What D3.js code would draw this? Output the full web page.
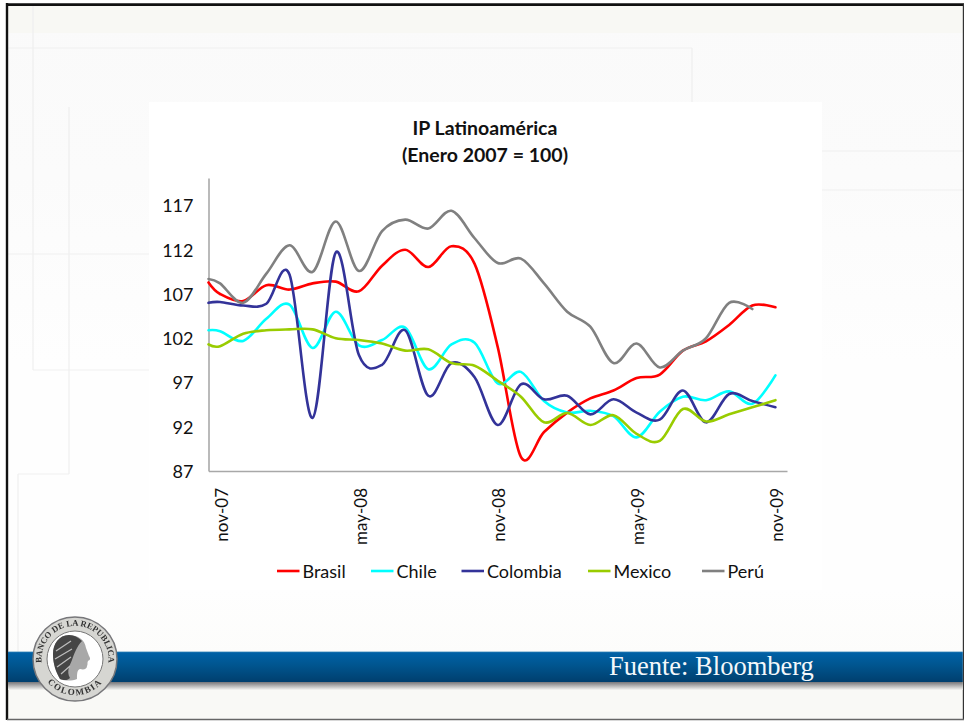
<!DOCTYPE html>
<html>
<head>
<meta charset="utf-8">
<script src="https://cdnjs.cloudflare.com/ajax/libs/d3/7.8.5/d3.min.js"></script>
<style>
  html, body { margin: 0; padding: 0; background: #fff; overflow: hidden; }
  svg { display: block; }
  text { font-family: Lato, "Open Sans", sans-serif; fill: #111; }
</style>
</head>
<body>
<svg id="slide" width="964" height="721"></svg>
<script>
const months = ['nov-07','dic-07','ene-08','feb-08','mar-08','abr-08','may-08','jun-08','jul-08','ago-08','sep-08','oct-08',
  'nov-08','dic-08','ene-09','feb-09','mar-09','abr-09','may-09','jun-09','jul-09','ago-09','sep-09','oct-09','nov-09'];
const labelledMonths = ['nov-07','may-08','nov-08','may-09','nov-09'];
const yTicks = [87, 92, 97, 102, 107, 112, 117];

// first value of each list is where the line meets the vertical axis, the rest are monthly
const brasil = [108.3,107.0,106.2,108.0,107.5,108.2,108.4,107.3,110.2,112.0,110.05,112.4,110.4,101.0,88.6,91.4,93.6,95.2,96.1,97.5,97.9,100.6,101.65,103.5,105.7,105.5];
const chile = [102.9,102.8,101.7,104.2,105.8,100.9,105.0,101.2,101.8,103.2,98.5,101.3,101.5,96.9,98.2,94.9,93.6,93.8,93.2,90.8,93.7,95.4,95.0,96.0,94.6,97.8];
const colombia = [106.0,106.1,105.7,105.9,109.2,93.0,111.7,100.1,99.0,102.9,95.5,99.2,97.6,92.2,96.8,95.1,95.5,93.4,95.1,93.6,92.8,96.1,92.5,95.7,94.9,94.2];
const mexico = [101.3,101.1,102.5,102.9,103.0,103.0,102.0,101.8,101.4,100.6,100.75,99.2,98.9,97.2,95.4,92.5,93.55,92.2,93.3,91.2,90.4,94.0,92.6,93.4,94.2,95.0];
const peru = [108.7,108.2,106.0,109.3,112.5,109.5,115.2,109.6,114.1,115.4,114.4,116.4,113.3,110.5,111.0,108.2,105.0,103.3,99.2,101.4,98.7,100.6,102.0,106.0,105.3];

const series = [
  { name: 'Brasil', values: brasil, color: '#ff0000', legendX: 277 },
  { name: 'Chile', values: chile, color: '#00ffff', legendX: 371 },
  { name: 'Colombia', values: colombia, color: '#333399', legendX: 461.5 },
  { name: 'Mexico', values: mexico, color: '#99cc00', legendX: 588 },
  { name: 'Perú', values: peru, color: '#808080', legendX: 702 },
];

const svg = d3.select('#slide');
const defs = svg.append('defs');

function vGradient(id, stops) {
  const g = defs.append('linearGradient').attr('id', id).attr('x1', 0).attr('x2', 0).attr('y1', 0).attr('y2', 1);
  stops.forEach(s => g.append('stop').attr('offset', s[0]).attr('stop-color', s[1]));
}
vGradient('bar-grad', [[0, '#5b9cc4'], [0.04, '#0061a6'], [0.45, '#00558f'], [1, '#003f6e']]);
vGradient('bar-shadow', [[0, '#77777a'], [1, '#f6f6f3']]);
vGradient('bg-grad', [[0, '#fafafa'], [0.24, '#fbfbfb'], [0.5, '#fefefe'], [0.82, '#fefefe'], [1, '#fafaf8']]);
defs.append('filter').attr('id', 'soft').append('feGaussianBlur').attr('stdDeviation', 0.45);

// slide background
const bg = svg.append('g');
bg.append('rect').attr('x', 7).attr('y', 5).attr('width', 956).attr('height', 714).attr('fill', 'url(#bg-grad)');
bg.append('rect').attr('x', 8).attr('y', 6).attr('width', 955).attr('height', 27).attr('fill', '#f8f8f4');
bg.append('rect').attr('x', 8).attr('y', 688).attr('width', 955).attr('height', 30).attr('fill', '#f9f9f6');

const guides = [
  [33, 6, 33, 370], [33, 370, 149, 370], [69, 107, 69, 474], [18, 474, 69, 474], [18, 474, 18, 652],
  [8, 254, 149, 254], [8, 48, 692, 48], [692, 48, 692, 102], [822, 151, 963, 151], [822, 190, 963, 190],
];
bg.selectAll('line').data(guides).join('line')
  .attr('x1', d => d[0]).attr('y1', d => d[1]).attr('x2', d => d[2]).attr('y2', d => d[3])
  .attr('stroke', '#efefef').attr('stroke-width', 1.2);

// frame
svg.append('line').attr('x1', 6).attr('x2', 964).attr('y1', 4.6).attr('y2', 4.6).attr('stroke', '#111').attr('stroke-width', 2.8);
svg.append('line').attr('x1', 7).attr('x2', 7).attr('y1', 3).attr('y2', 720).attr('stroke', '#111').attr('stroke-width', 2.4);
svg.append('line').attr('x1', 963.4).attr('x2', 963.4).attr('y1', 4).attr('y2', 720).attr('stroke', '#333').attr('stroke-width', 1.2);
svg.append('line').attr('x1', 7).attr('x2', 964).attr('y1', 719.6).attr('y2', 719.6).attr('stroke', '#666').attr('stroke-width', 1.5);

// blue bar
svg.append('rect').attr('x', 8).attr('y', 682).attr('width', 954.8).attr('height', 8).attr('fill', 'url(#bar-shadow)');
svg.append('rect').attr('x', 8).attr('y', 651.5).attr('width', 954.8).attr('height', 30.5).attr('fill', 'url(#bar-grad)');
svg.append('text').attr('x', 609).attr('y', 675)
  .style('font-family', '"Liberation Serif", serif').style('font-size', '26.5px').style('fill', '#f4f8fb')
  .text('Fuente: Bloomberg');

// chart panel
svg.append('rect').attr('x', 149).attr('y', 102).attr('width', 673).attr('height', 488).attr('fill', '#fff');

const plot = { left: 208.5, right: 787, top: 178, bottom: 471 };
const x = d3.scaleBand().domain(months).range([plot.left, plot.right]);
const y = d3.scaleLinear().domain([87, 87 + (plot.bottom - plot.top) / 8.85]).range([plot.bottom, plot.top]);
const xPos = i => i === 0 ? plot.left : x(months[i - 1]) + x.bandwidth() / 2;

const title = svg.append('text').attr('text-anchor', 'middle').style('font-weight', 700).style('font-size', '19.5px');
title.append('tspan').attr('x', 485).attr('y', 135).text('IP Latinoamérica');
title.append('tspan').attr('x', 485).attr('y', 162).text('(Enero 2007 = 100)');

const yAxis = svg.append('g').attr('transform', `translate(${plot.left},0)`)
  .call(d3.axisLeft(y).tickValues(yTicks).tickSize(0).tickPadding(15).tickFormat(d3.format('d')));
yAxis.selectAll('text').style('font-size', '18px').attr('dy', '0.36em');
yAxis.select('.domain').attr('stroke', '#8c8c8c').attr('stroke-width', 1.2);

const xAxis = svg.append('g').attr('transform', `translate(0,${plot.bottom})`)
  .call(d3.axisBottom(x).tickValues(labelledMonths).tickSize(0));
xAxis.select('.domain').attr('stroke', '#a8a8a8').attr('stroke-width', 1.4);
xAxis.selectAll('text')
  .attr('transform', 'translate(1.5,17) rotate(-90)')
  .attr('text-anchor', 'end').attr('x', 0).attr('y', 0).attr('dy', '0.36em')
  .style('font-size', '17px');

const line = d3.line()
  .x((d, i) => xPos(i))
  .y(d => y(d))
  .curve(d3.curveCatmullRom.alpha(0));

svg.append('g').selectAll('path').data(series).join('path')
  .attr('d', d => line(d.values))
  .attr('fill', 'none')
  .attr('stroke', d => d.color)
  .attr('stroke-width', 2.6)
  .attr('stroke-linecap', 'round')
  .attr('stroke-linejoin', 'round');

const legend = svg.append('g').attr('transform', 'translate(0,571)');
series.forEach(s => {
  legend.append('line').attr('x1', s.legendX).attr('x2', s.legendX + 22.5).attr('y1', 0).attr('y2', 0)
    .attr('stroke', s.color).attr('stroke-width', 2.6);
  legend.append('text').attr('x', s.legendX + 25.5).attr('y', 6.5).style('font-size', '18px').text(s.name);
});

// seal of the bank
const seal = svg.append('g').attr('transform', 'translate(75,659)').attr('filter', 'url(#soft)');
seal.append('circle').attr('r', 42).attr('fill', '#d6d6d2').attr('stroke', '#77777a').attr('stroke-width', 1.5);
seal.append('circle').attr('r', 28).attr('fill', '#fff').attr('stroke', '#777').attr('stroke-width', 1);
defs.append('path').attr('id', 'seal-top').attr('d', 'M-31,13A33.5,33.5 0 1 1 31,13');
defs.append('path').attr('id', 'seal-bottom').attr('d', 'M-30,20A36,36 0 0 0 30,20');
seal.append('text').style('font-family', '"Liberation Serif", serif').style('font-weight', 700).style('font-size', '8.6px').style('fill', '#333')
  .append('textPath').attr('href', '#seal-top').attr('startOffset', '50%').attr('text-anchor', 'middle').text('BANCO DE LA REPUBLICA');
seal.append('text').style('font-family', '"Liberation Serif", serif').style('font-weight', 700).style('font-size', '9px').style('fill', '#333')
  .attr('letter-spacing', 1.5)
  .append('textPath').attr('href', '#seal-bottom').attr('startOffset', '50%').attr('text-anchor', 'middle').text('COLOMBIA');
// laureate head in profile
seal.append('path')
  .attr('d', 'M-6,-24C-16,-24 -22,-15 -22,-5C-22,5 -19,13 -15,20C-10,22 -3,22 2,20C2,15 2,11 5,10C9,11 12,10 12,7C13,5 12,4 13,2C15,1 16,0 14,-3C13,-6 12,-8 11,-11C10,-19 3,-24 -6,-24Z')
  .attr('fill', '#a8a8a8');
seal.append('path')
  .attr('d', 'M-6,-24C-16,-24 -22,-15 -22,-5C-22,5 -19,13 -15,20C-10,22 -7,21 -5,19C-9,12 -5,6 -3,1C-1,-5 2,-13 7,-18C3,-22 -1,-24 -6,-24Z')
  .attr('fill', '#444');
seal.append('path')
  .attr('d', 'M-19,-8L-4,-18M-20,0L-3,-10M-18,8L-4,-2M-14,15L-5,7')
  .attr('fill', 'none').attr('stroke', '#bdbdbd').attr('stroke-width', 1.3);
</script>
</body>
</html>
